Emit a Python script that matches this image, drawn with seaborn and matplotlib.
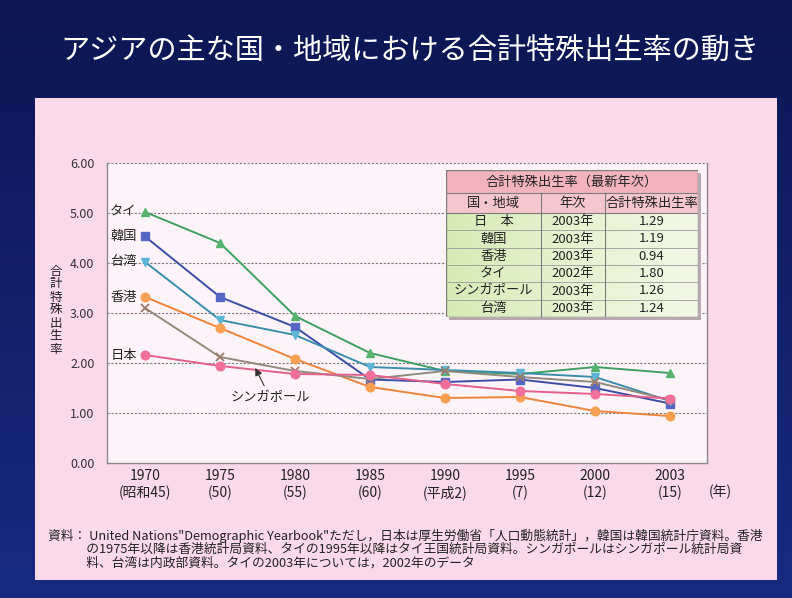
import numpy as np
import pandas as pd
import matplotlib
matplotlib.use("Agg")
import matplotlib.pyplot as plt
from matplotlib.patches import Rectangle
from matplotlib.colors import LinearSegmentedColormap
import seaborn as sns

# ---------------- data ----------------
years = ["1970", "1975", "1980", "1985", "1990", "1995", "2000", "2003"]
eras = ["(昭和45)", "(50)", "(55)", "(60)", "(平成2)", "(7)", "(12)", "(15)"]

thailand = [5.02, 4.40, 2.94, 2.20, 1.84, 1.78, 1.92, 1.80]
korea = [4.53, 3.32, 2.72, 1.67, 1.62, 1.67, 1.50, 1.19]
taiwan = [4.02, 2.86, 2.56, 1.92, 1.86, 1.80, 1.72, 1.24]
hongkong = [3.32, 2.70, 2.08, 1.52, 1.30, 1.32, 1.04, 0.94]
singapore = [3.10, 2.12, 1.84, 1.68, 1.84, 1.72, 1.62, 1.26]
japan = [2.16, 1.94, 1.78, 1.76, 1.58, 1.44, 1.38, 1.29]

series_names = ["タイ", "韓国", "台湾", "香港", "シンガポール", "日本"]

table_title = "合計特殊出生率（最新年次）"
table_cols = ["国・地域", "年次", "合計特殊出生率"]
table_regions = ["日　本", "韓国", "香港", "タイ", "シンガポール", "台湾"]
table_years = ["2003年", "2003年", "2003年", "2002年", "2003年", "2003年"]
table_values = ["1.29", "1.19", "0.94", "1.80", "1.26", "1.24"]

title = "アジアの主な国・地域における合計特殊出生率の動き"
ylabel = "合計特殊出生率"
footnote = ("資料： United Nations\"Demographic Yearbook\"ただし，日本は厚生労働省「人口動態統計」，韓国は韓国統計庁資料。香港\n"
            "　　　の1975年以降は香港統計局資料、タイの1995年以降はタイ王国統計局資料。シンガポールはシンガポール統計局資\n"
            "　　　料、台湾は内政部資料。タイの2003年については，2002年のデータ")

# ---------------- style ----------------
sns.set_style("white")
plt.rcParams['font.family'] = ['Noto Sans CJK JP', 'DejaVu Sans']

W, H = 792, 598
fig = plt.figure(figsize=(W / 100, H / 100), dpi=100)
fig.patch.set_facecolor("#0f1b5e")

def fx(px):
    return px / W

def fy(py):
    return 1 - py / H

# navy gradient background
bg = fig.add_axes([0, 0, 1, 1], zorder=-10)
grad = np.linspace(0, 1, 256).reshape(-1, 1)
navy = LinearSegmentedColormap.from_list("navy", ["#0c1652", "#13216c", "#182a80"])
bg.imshow(grad, aspect="auto", cmap=navy, extent=[0, 1, 0, 1])
bg.set_axis_off()

# pink panel
fig.patches.append(Rectangle((fx(35), fy(580)), fx(777) - fx(35), fy(98) - fy(580),
                             transform=fig.transFigure, facecolor="#fad9e8",
                             edgecolor="none", zorder=-5))

fig.text(fx(410), fy(52), title, color="white", fontsize=21, ha="center", va="center")

# ---------------- main axes ----------------
ax = fig.add_axes([fx(107), fy(463), fx(707) - fx(107), fy(163) - fy(463)])
ax.set_facecolor("#fdf4f9")

x = np.arange(len(years))
df = pd.DataFrame({
    "x": np.tile(x, 6),
    "rate": thailand + korea + taiwan + hongkong + singapore + japan,
    "region": np.repeat(series_names, len(years)),
})

line_colors = {"タイ": "#3f9f62", "韓国": "#3c4ca4", "台湾": "#3a8eab",
               "香港": "#f0843a", "シンガポール": "#8f8a7c", "日本": "#e4608c"}
marker_face = {"タイ": "#55b36e", "韓国": "#5566c4", "台湾": "#5cb4d6",
               "香港": "#f7a052", "シンガポール": "#9a7a6a", "日本": "#f06f9b"}
markers = {"タイ": "^", "韓国": "s", "台湾": "v", "香港": "o",
           "シンガポール": "x", "日本": "o"}

for name in series_names:
    sub = df[df["region"] == name]
    sns.lineplot(data=sub, x="x", y="rate", ax=ax, color=line_colors[name],
                 linewidth=1.4, marker=markers[name], markersize=6.2,
                 markerfacecolor=marker_face[name],
                 markeredgecolor=marker_face[name],
                 markeredgewidth=1.0 if name != "シンガポール" else 1.3,
                 zorder=3, legend=False)

ax.set_xlim(-0.507, 7.493)
ax.set_ylim(0, 6)
ax.set_yticks([0, 1, 2, 3, 4, 5, 6])
ax.set_yticklabels([f"{v:.2f}" for v in [0, 1, 2, 3, 4, 5, 6]])
ax.set_xticks(x)
ax.set_xticklabels([f"{y}\n{e}" for y, e in zip(years, eras)], linespacing=1.25)
ax.set_xlabel("")
ax.set_ylabel("")
ax.tick_params(axis="y", length=0, pad=9, labelsize=9, labelcolor="#333333")
ax.tick_params(axis="x", direction="in", length=3, color="#888888", pad=4,
               labelsize=10, labelcolor="#222222")
for yv in [1, 2, 3, 4, 5, 6]:
    ax.axhline(yv, color="#7a7a7a", linewidth=0.8, linestyle=(0, (2, 1.5)), zorder=1)
for s in ["left", "bottom", "right"]:
    ax.spines[s].set_color("#8a8a8a")
    ax.spines[s].set_linewidth(1.0)
ax.spines["top"].set_visible(False)

# series labels on the left
for name, vals in zip(["タイ", "韓国", "台湾", "香港", "日本"],
                      [thailand, korea, taiwan, hongkong, japan]):
    ax.text(-0.11, vals[0], name, ha="right", va="center", fontsize=9.5, color="#222222")

ax.annotate("シンガポール", xy=(1.47, 1.9), xytext=(1.67, 1.3),
            ha="center", va="center", fontsize=9.5, color="#222222",
            arrowprops=dict(arrowstyle="-|>", color="#333333", lw=0.8,
                            shrinkA=2, shrinkB=0, mutation_scale=11))

fig.text(fx(720), fy(492), "(年)", fontsize=10, ha="center", va="center", color="#222222")

# y label stacked vertically
fig.text(fx(56), fy(310), "\n".join(ylabel), fontsize=9, ha="center", va="center",
         linespacing=1.0, color="#222222")

# ---------------- table ----------------
tx0, ty0, tx1, ty1 = 446, 170, 698, 317
tax = fig.add_axes([fx(tx0), fy(ty1), fx(tx1) - fx(tx0), fy(ty0) - fy(ty1)], zorder=5)
tw, th = tx1 - tx0, ty1 - ty0
col_edges = [0, 541 - tx0, 605 - tx0, tw]
row_title_h = 23
row_head_h = 20
data_top = row_title_h + row_head_h
row_h = (th - data_top) / 6

tax.add_patch(Rectangle((3, 3), tw, th, facecolor="#b8a8b0", edgecolor="none", zorder=0, clip_on=False))
tax.add_patch(Rectangle((0, 0), tw, row_title_h, facecolor="#f3b3bd", edgecolor="none", zorder=1))
tax.add_patch(Rectangle((0, row_title_h), tw, row_head_h, facecolor="#f6c6ce", edgecolor="none", zorder=1))
greens = LinearSegmentedColormap.from_list("g", ["#d6ebb6", "#e6f2d0", "#f3f8e6"])
tax.imshow(np.linspace(0, 1, 256).reshape(1, -1), cmap=greens, aspect="auto",
           extent=[0, tw, th, data_top], zorder=1)
tax.set_xlim(0, tw)
tax.set_ylim(th, 0)
tax.set_axis_off()

lc = "#7d7d7d"
tax.add_patch(Rectangle((0, 0), tw, th, facecolor="none", edgecolor=lc, linewidth=1.0, zorder=3))
tax.plot([0, tw], [row_title_h, row_title_h], color=lc, lw=0.8, zorder=3)
tax.plot([0, tw], [data_top, data_top], color=lc, lw=0.8, zorder=3)
for i in range(1, 6):
    yy = data_top + i * row_h
    tax.plot([0, tw], [yy, yy], color="#9a9a9a", lw=0.6, zorder=3)
for ce in col_edges[1:-1]:
    tax.plot([ce, ce], [row_title_h, th], color=lc, lw=0.8, zorder=3)

tax.text(tw / 2, row_title_h / 2 + 1, table_title, ha="center", va="center", fontsize=9.5, color="#222222", zorder=4)
for j, c in enumerate(table_cols):
    tax.text((col_edges[j] + col_edges[j + 1]) / 2, row_title_h + row_head_h / 2, c,
             ha="center", va="center", fontsize=9.5, color="#222222", zorder=4)
for i in range(6):
    yy = data_top + (i + 0.5) * row_h
    for j, val in enumerate([table_regions[i], table_years[i], table_values[i]]):
        tax.text((col_edges[j] + col_edges[j + 1]) / 2, yy, val, ha="center", va="center",
                 fontsize=9.5, color="#222222", zorder=4)

# footnote
fig.text(fx(48), fy(549), footnote, fontsize=9.2, ha="left", va="center",
         linespacing=1.05, color="#222222")

fig.savefig("out.png", dpi=100)
